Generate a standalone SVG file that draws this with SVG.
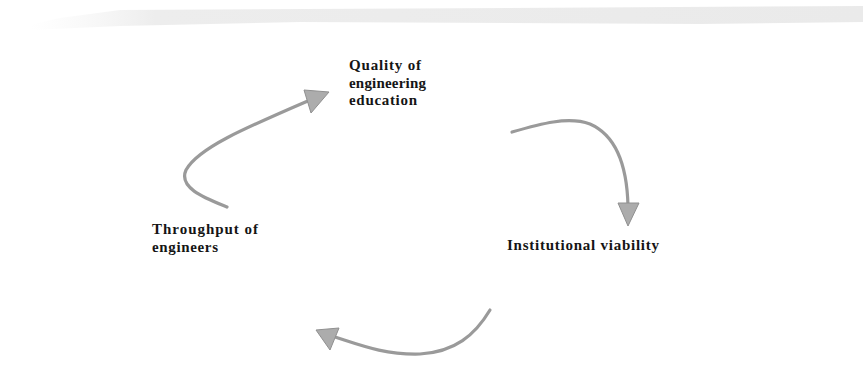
<svg xmlns="http://www.w3.org/2000/svg" width="863" height="386" viewBox="0 0 863 386">
<style>
.lbl{font-family:"Liberation Serif","Times New Roman",serif;font-weight:bold;font-size:15px;fill:#151515}
.conn{fill:none;stroke:#9a9a9a;stroke-width:3.2;stroke-linecap:round}
.head{fill:#acacac;stroke:#909090;stroke-width:1}
</style>
<defs>
<linearGradient id="band" x1="0" y1="0" x2="1" y2="0">
<stop offset="0" stop-color="#f4f4f4" stop-opacity="0"/>
<stop offset="0.15" stop-color="#ededed"/>
<stop offset="1" stop-color="#eaeaea"/>
</linearGradient>
</defs>
<rect width="863" height="386" fill="#ffffff"/>
<path d="M30 25 L60 18 L120 10 L863 6 L863 22 L700 24 L300 22 L120 26 L30 30 Z" fill="url(#band)"/>
<g id="connectors">
<path class="conn" d="M227 207 C205 198 178 188 186 170 C198 148 245 128 310 100"/>
<polygon class="head" points="304,90 329,92 311,113"/>
<path class="conn" d="M512 132 C540 124 568 116 590 124 C615 135 627 165 628 206"/>
<polygon class="head" points="618,203 639,203 628,226"/>
<path class="conn" d="M490 310 C475 335 455 352 420 354 C385 355 360 345 335 337"/>
<polygon class="head" points="316,330 339,328 330,350"/>
</g>
<g id="node-quality">
<text class="lbl" x="349" y="70" textLength="72" lengthAdjust="spacing">Quality of</text>
<text class="lbl" x="349" y="87.5" textLength="77" lengthAdjust="spacing">engineering</text>
<text class="lbl" x="349" y="105" textLength="68" lengthAdjust="spacing">education</text>
</g>
<g id="node-viability">
<text class="lbl" x="507" y="250" textLength="152" lengthAdjust="spacing">Institutional viability</text>
</g>
<g id="node-throughput">
<text class="lbl" x="152" y="234" textLength="106" lengthAdjust="spacing">Throughput of</text>
<text class="lbl" x="152" y="251.5" textLength="66" lengthAdjust="spacing">engineers</text>
</g>
</svg>
